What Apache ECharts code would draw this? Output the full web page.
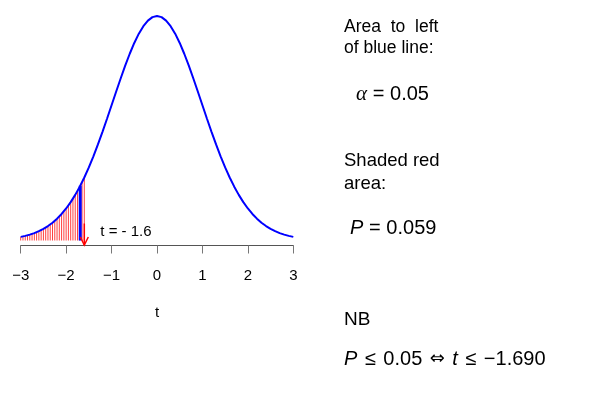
<!DOCTYPE html>
<html>
<head>
<meta charset="utf-8">
<script src="https://cdn.jsdelivr.net/npm/echarts@6/dist/echarts.min.js"></script>
<style>html,body{margin:0;padding:0;background:#fff}#c{width:600px;height:393px}</style>
</head>
<body>
<div id="c"></div>
<script>
// t-density curve (df = 35) at steps of 0.1
var curveX = [-3,-2.9,-2.8,-2.7,-2.6,-2.5,-2.4,-2.3,-2.2,-2.1,-2,-1.9,-1.8,-1.7,-1.6,-1.5,-1.4,-1.3,-1.2,-1.1,-1,-0.9,-0.8,-0.7,-0.6,-0.5,-0.4,-0.3,-0.2,-0.1,0,0.1,0.2,0.3,0.4,0.5,0.6,0.7,0.8,0.9,1,1.1,1.2,1.3,1.4,1.5,1.6,1.7,1.8,1.9,2,2.1,2.2,2.3,2.4,2.5,2.6,2.7,2.8,2.9,3];
var curveY = [0.0064,0.0082,0.0104,0.0131,0.0165,0.0206,0.0255,0.0314,0.0385,0.0468,0.0565,0.0677,0.0805,0.0950,0.1112,0.1290,0.1485,0.1695,0.1917,0.2148,0.2386,0.2624,0.2858,0.3084,0.3295,0.3485,0.3649,0.3782,0.3880,0.3941,0.3961,0.3941,0.3880,0.3782,0.3649,0.3485,0.3295,0.3084,0.2858,0.2624,0.2386,0.2148,0.1917,0.1695,0.1485,0.1290,0.1112,0.0950,0.0805,0.0677,0.0565,0.0468,0.0385,0.0314,0.0255,0.0206,0.0165,0.0131,0.0104,0.0082,0.0064];
// red shading lines in the left tail
var shadeX = [-3,-2.95,-2.9,-2.85,-2.8,-2.75,-2.7,-2.65,-2.6,-2.55,-2.5,-2.45,-2.4,-2.35,-2.3,-2.25,-2.2,-2.15,-2.1,-2.05,-2,-1.95,-1.9,-1.85,-1.8,-1.75,-1.7,-1.65,-1.6];
var shadeY = [0.0064,0.0073,0.0082,0.0093,0.0104,0.0117,0.0131,0.0147,0.0165,0.0184,0.0206,0.0229,0.0255,0.0283,0.0314,0.0348,0.0385,0.0425,0.0468,0.0515,0.0565,0.0619,0.0677,0.0739,0.0805,0.0875,0.0950,0.1028,0.1112];
// critical value (blue line) and observed t (arrow)
var critT = -1.69, critY = 0.0965;
var obsT = -1.6;
var arrowTop = 0.03, arrowTip = -0.008;
var obsLabel = 't = - 1.6';
var tickValues = [-3,-2,-1,0,1,2,3];
var tickLabels = ['\u22123','\u22122','\u22121','0','1','2','3'];
var xName = 't';

var curveData = curveX.map(function(x,i){return [x,curveY[i]];});
var shadeData = shadeX.map(function(x,i){return [x,shadeY[i]];});

var chart = echarts.init(document.getElementById('c'));
var sans = 'Liberation Sans, Arial, Helvetica, sans-serif';
var mathRich = {
  i:{fontFamily:sans,fontStyle:'italic',fontSize:20,fill:'#000'},
  a:{fontFamily:'Liberation Serif, DejaVu Serif, serif',fontStyle:'italic',fontSize:21,fill:'#000'},
  e:{fontFamily:sans,fontSize:20,fill:'#000',width:23,align:'center'},
  o:{fontFamily:sans,fontSize:20,fill:'#000',width:26,align:'center'},
  s:{fontFamily:'DejaVu Sans, sans-serif',fontSize:18,fill:'#000',width:30,align:'center'}
};
chart.setOption({
  animation:false,
  backgroundColor:'#fff',
  grid:{left:20.7,right:600-293.3,top:16,bottom:152.5},
  xAxis:{type:'value',min:-3,max:3,interval:1,offset:5,
    axisLine:{onZero:false,lineStyle:{color:'#555',width:1}},
    axisTick:{length:8,lineStyle:{color:'#777',width:1}},
    splitLine:{show:false},
    axisLabel:{margin:23,fontFamily:sans,fontSize:15,color:'#000',
      formatter:function(v){var i=tickValues.indexOf(v);return i>=0?tickLabels[i]:'';}},
    name:xName,nameLocation:'middle',nameGap:60,
    nameTextStyle:{fontFamily:sans,fontSize:15,color:'#000'}},
  yAxis:{type:'value',min:0,max:0.3961,show:false},
  series:[
    {type:'custom',coordinateSystem:'cartesian2d',data:shadeData,z:2,silent:true,
      renderItem:function(params,api){
        var p0=api.coord([api.value(0),0]);var p1=api.coord([api.value(0),api.value(1)]);
        return {type:'line',shape:{x1:p0[0],y1:p0[1],x2:p0[0],y2:p1[1]},
          style:{stroke:'rgba(255,0,0,0.75)',lineWidth:1}};
      }},
    {type:'line',data:curveData,showSymbol:false,smooth:false,z:4,
      lineStyle:{color:'#0000ff',width:2}},
    {type:'line',data:[[critT,0],[critT,critY]],showSymbol:false,z:5,
      lineStyle:{color:'#0000ff',width:3}},
    {type:'custom',coordinateSystem:'cartesian2d',data:[[obsT,arrowTop,arrowTip]],z:6,silent:true,
      renderItem:function(params,api){
        var top=api.coord([api.value(0),api.value(1)]);var tip=api.coord([api.value(0),api.value(2)]);
        var x=tip[0];
        return {type:'group',children:[
          {type:'line',shape:{x1:x,y1:top[1],x2:x,y2:tip[1]},style:{stroke:'#ff0000',lineWidth:1.5}},
          {type:'polyline',shape:{points:[[x-4,tip[1]-8],[x,tip[1]],[x+4,tip[1]-8]]},style:{stroke:'#ff0000',lineWidth:1.5,fill:null}},
          {type:'text',x:x+16,y:tip[1]-13,style:{text:obsLabel,font:'15px '+sans,fill:'#000',verticalAlign:'middle',align:'left'}}
        ]};
      }}
  ],
  graphic:[
    {type:'text',x:344,y:27,style:{text:'Area  to  left',font:'17.5px '+sans,fill:'#000',verticalAlign:'middle'}},
    {type:'text',x:344,y:48,style:{text:'of blue line:',font:'17.5px '+sans,fill:'#000',verticalAlign:'middle'}},
    {type:'text',x:356,y:94,style:{text:'{a|\u03b1}{e|=}0.05',font:'20px '+sans,fill:'#000',verticalAlign:'middle',rich:mathRich}},
    {type:'text',x:344,y:161,style:{text:'Shaded red',font:'18.5px '+sans,fill:'#000',verticalAlign:'middle'}},
    {type:'text',x:344,y:184,style:{text:'area:',font:'18.5px '+sans,fill:'#000',verticalAlign:'middle'}},
    {type:'text',x:350,y:228,style:{text:'{i|P}{e|=}0.059',font:'20px '+sans,fill:'#000',verticalAlign:'middle',rich:mathRich}},
    {type:'text',x:344,y:320,style:{text:'NB',font:'19px '+sans,fill:'#000',verticalAlign:'middle'}},
    {type:'text',x:344,y:359,style:{text:'{i|P}{o|\u2264}0.05{s|\u21d4}{i|t}{o|\u2264}\u22121.690',font:'20px '+sans,fill:'#000',verticalAlign:'middle',rich:mathRich}}
  ]
});
</script>
</body>
</html>
